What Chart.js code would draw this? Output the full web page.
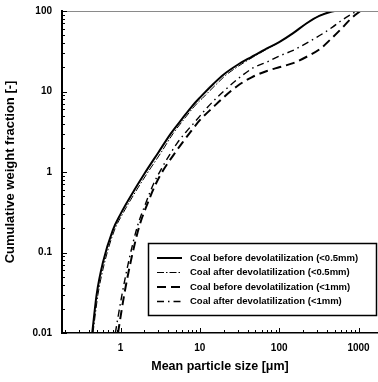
<!DOCTYPE html>
<html>
<head>
<meta charset="utf-8">
<script src="https://cdn.jsdelivr.net/npm/chart.js@4/dist/chart.umd.min.js"></script>
<style>
html,body{margin:0;padding:0;background:#fff;}
canvas{display:block;}
</style>
</head>
<body>
<canvas id="c" width="378" height="382"></canvas>
<script>
// ---- data ----
const seriesLabels = [
  'Coal before devolatilization (<0.5mm)',
  'Coal after devolatilization (<0.5mm)',
  'Coal before devolatilization (<1mm)',
  'Coal after devolatilization (<1mm)'
];
const sizeBefore05 = [0.44, 0.5, 0.6, 0.8, 1.0, 1.5, 2.0, 3.0, 4.3, 6, 8, 10, 15, 20, 30, 45, 65, 100, 150, 220, 320, 450, 500];
const fracBefore05 = [0.01, 0.03, 0.075, 0.19, 0.3, 0.6, 0.95, 1.75, 3.0, 4.6, 6.6, 8.4, 12.6, 16.3, 21.5, 27, 33, 41, 53, 70, 87, 98, 100];
const sizeAfter05  = [0.45, 0.52, 0.63, 0.84, 1.06, 1.6, 2.15, 3.25, 4.6, 6.4, 8.6, 10.7, 16, 21, 31, 46, 66, 100, 150, 220, 320, 450, 530];
const fracAfter05  = [0.01, 0.03, 0.075, 0.19, 0.3, 0.6, 0.95, 1.75, 3.0, 4.6, 6.6, 8.2, 12.2, 15.8, 20.8, 26.5, 32.5, 41, 53, 70, 87, 98, 100];
const sizeBefore1  = [0.93, 1.12, 1.36, 1.72, 2.2, 2.8, 3.45, 4.6, 6, 8, 10, 15, 20, 30, 45, 70, 100, 150, 230, 330, 450, 615, 800, 1050];
const fracBefore1  = [0.01, 0.031, 0.081, 0.21, 0.41, 0.72, 1.05, 1.6, 2.3, 3.35, 4.4, 6.5, 8.5, 11.8, 15, 18, 20, 22.5, 27.5, 34, 45, 61, 80, 100];
const sizeAfter1   = [0.86, 1.05, 1.28, 1.63, 2.08, 2.62, 3.2, 4.1, 5.2, 6.8, 8.5, 12, 16, 20, 30, 47.5, 70, 103, 150, 193, 270, 361, 470, 585, 750, 950];
const fracAfter1   = [0.01, 0.031, 0.081, 0.21, 0.41, 0.72, 1.05, 1.6, 2.3, 3.2, 4.1, 6.1, 8.2, 10.1, 14.3, 19.8, 23.2, 27.9, 32.4, 37, 44.5, 53, 63, 74, 87, 100];
const xTickValues = [1, 10, 100, 1000];
const yTickValues = [0.01, 0.1, 1, 10, 100];
const xTitle = 'Mean particle size [μm]';
const yTitle = 'Cumulative weight fraction [-]';

// ---- styles ----
const styles = [
  {borderWidth: 2,   borderDash: []},
  {borderWidth: 1,   borderDash: [7, 2, 1.5, 2]},
  {borderWidth: 2,   borderDash: [9, 5]},
  {borderWidth: 1.4, borderDash: [7, 4, 1.5, 4]}
];
const pairs = [[sizeBefore05, fracBefore05],[sizeAfter05, fracAfter05],[sizeBefore1, fracBefore1],[sizeAfter1, fracAfter1]];
const datasets = pairs.map((p, i) => ({
  label: seriesLabels[i],
  data: p[0].map((x, j) => ({x: x, y: p[1][j]})),
  borderColor: '#000',
  backgroundColor: '#000',
  borderWidth: styles[i].borderWidth,
  borderDash: styles[i].borderDash,
  pointRadius: 0,
  cubicInterpolationMode: 'monotone',
  fill: false
}));

Chart.defaults.font.family = '"Liberation Sans", Arial, sans-serif';
Chart.defaults.color = '#000';

const FONT = '"Liberation Sans", Arial, sans-serif';

const decor = {
  id: 'decor',
  afterDraw(chart) {
    const ctx = chart.ctx;
    const a = chart.chartArea;
    const xs = chart.scales.x, ys = chart.scales.y;
    ctx.save();
    // top frame line
    ctx.strokeStyle = '#8a8a8a';
    ctx.lineWidth = 1;
    ctx.beginPath();
    ctx.moveTo(a.left, a.top + 0.5);
    ctx.lineTo(a.right, a.top + 0.5);
    ctx.stroke();
    // inward ticks on y
    ctx.strokeStyle = '#000';
    ctx.lineWidth = 1;
    for (let d = -2; d <= 2; d++) {
      for (let k = 1; k <= 9; k++) {
        const v = k * Math.pow(10, d);
        if (v < ys.min - 1e-9 || v > ys.max + 1e-9) continue;
        const py = Math.round(ys.getPixelForValue(v)) + 0.5;
        const len = k === 1 ? 5 : 3;
        ctx.beginPath();
        ctx.moveTo(a.left, py);
        ctx.lineTo(a.left + len, py);
        ctx.stroke();
      }
    }
    // inward ticks on x
    for (let d = -1; d <= 3; d++) {
      for (let k = 1; k <= 9; k++) {
        const v = k * Math.pow(10, d);
        if (v < xs.min || v > xs.max) continue;
        const px = Math.round(xs.getPixelForValue(v)) + 0.5;
        const len = k === 1 ? 5 : 3;
        ctx.beginPath();
        ctx.moveTo(px, a.bottom);
        ctx.lineTo(px, a.bottom - len);
        ctx.stroke();
      }
    }
    // legend box
    const bx = 148.5, by = 243.5, bw = 228, bh = 72;
    ctx.fillStyle = '#fff';
    ctx.fillRect(bx, by, bw, bh);
    ctx.strokeStyle = '#000';
    ctx.lineWidth = 1.5;
    ctx.strokeRect(bx, by, bw, bh);
    const rowY = [258, 272.5, 287, 301.5];
    ctx.font = 'bold 9px ' + FONT;
    const w0 = ctx.measureText(seriesLabels[0]).width;
    const fs = Math.min(9.5, 9 * 184 / w0);
    ctx.font = 'bold ' + fs.toFixed(2) + 'px ' + FONT;
    ctx.textBaseline = 'middle';
    ctx.fillStyle = '#000';
    chart.data.datasets.forEach((ds, i) => {
      ctx.lineWidth = ds.borderWidth;
      ctx.setLineDash(ds.borderDash);
      ctx.beginPath();
      ctx.moveTo(157, rowY[i]);
      ctx.lineTo(182, rowY[i]);
      ctx.stroke();
      ctx.setLineDash([]);
      ctx.fillText(ds.label, 190, rowY[i]);
    });
    ctx.restore();
  }
};

new Chart(document.getElementById('c'), {
  type: 'line',
  data: {datasets: datasets},
  plugins: [decor],
  options: {
    responsive: false,
    animation: false,
    layout: {padding: {top: 11, right: 0, left: 0, bottom: 0}},
    plugins: {legend: {display: false}, tooltip: {enabled: false}},
    scales: {
      x: {
        type: 'logarithmic',
        min: 0.183,
        max: 1760,
        afterBuildTicks: s => { s.ticks = xTickValues.map(v => ({value: v, major: true})); },
        afterFit: s => { s.height = 49; s.paddingLeft = 0; s.paddingRight = 0; s.paddingTop = 0; s.paddingBottom = 0; },
        grid: {display: true, drawOnChartArea: false, drawTicks: false},
        border: {display: true, color: '#000', width: 1.5},
        ticks: {
          font: {size: 10, weight: 'bold'}, color: '#000', padding: 9,
          maxRotation: 0, autoSkip: false,
          callback: v => String(v)
        },
        title: {display: true, text: xTitle, font: {size: 12.5, weight: 'bold'}, color: '#000', padding: {top: 0, bottom: 8}}
      },
      y: {
        type: 'logarithmic',
        min: 0.01,
        max: 100,
        afterBuildTicks: s => { s.ticks = yTickValues.map(v => ({value: v, major: true})); },
        afterFit: s => { s.width = 62; s.paddingTop = 0; s.paddingBottom = 0; s.paddingLeft = 0; s.paddingRight = 0; },
        grid: {display: true, drawOnChartArea: false, drawTicks: false},
        border: {display: true, color: '#000', width: 2},
        ticks: {
          font: {size: 10, weight: 'bold'}, color: '#000', padding: 10,
          autoSkip: false,
          callback: v => String(v)
        },
        title: {display: true, text: yTitle, font: {size: 13, weight: 'bold'}, color: '#000', padding: {top: 3, bottom: 0}}
      }
    }
  }
});
</script>
</body>
</html>
